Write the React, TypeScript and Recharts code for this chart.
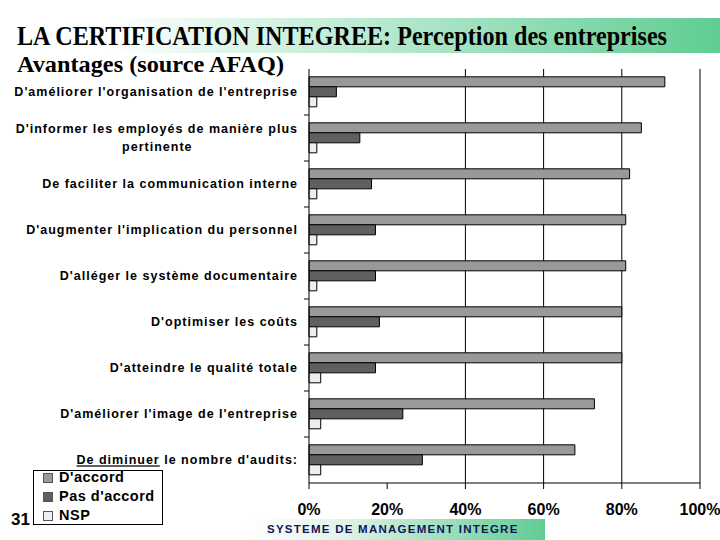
import React from 'react'
import { Bar, BarChart, CartesianGrid, XAxis, YAxis } from 'recharts'

const categories = [
  "D'améliorer l'organisation de l'entreprise",
  "D'informer les employés de manière plus\npertinente",
  'De faciliter la communication interne',
  "D'augmenter l'implication du personnel",
  "D'alléger le système documentaire",
  "D'optimiser les coûts",
  "D'atteindre le qualité totale",
  "D'améliorer l'image de l'entreprise",
  "De diminuer le nombre d'audits:",
]
const accord = [91, 85, 82, 81, 81, 80, 80, 73, 68]
const pasAccord = [7, 13, 16, 17, 17, 18, 17, 24, 29]
const nsp = [2, 2, 2, 2, 2, 2, 3, 3, 3]

const seriesNames = ["D'accord", "Pas d'accord", 'NSP']
const seriesKeys = ['accord', 'pasAccord', 'nsp']
const seriesColors = ['#999999', '#606060', '#eeeeee']

const xTicks = [0, 20, 40, 60, 80, 100]
const gridValues = [40, 60, 80, 100]
const underlined = 'De diminuer'

const data = categories.map((name, i) => ({
  name,
  accord: accord[i],
  pasAccord: pasAccord[i],
  nsp: nsp[i],
}))

const W = 720
const H = 540
const MARGIN = { top: 69, right: 20, bottom: 17, left: 0 }
const Y_WIDTH = 309
const X_HEIGHT = 40
const PLOT_LEFT = MARGIN.left + Y_WIDTH
const PLOT_H = H - MARGIN.top - MARGIN.bottom - X_HEIGHT
const BAND = PLOT_H / categories.length

const SANS = '"Liberation Sans", Arial, sans-serif'
const SERIF = '"Liberation Serif", "Times New Roman", serif'
const LABEL_SIZE = 12.5
const LABEL_SPACING = 1

let ctx: CanvasRenderingContext2D | null = null
const measure = (s: string) => {
  if (!ctx) ctx = document.createElement('canvas').getContext('2d')
  if (!ctx) return s.length * 7
  ctx.font = `bold ${LABEL_SIZE}px "Liberation Sans"`
  return ctx.measureText(s).width + LABEL_SPACING * (s.length - 1)
}

// grid only at 40..100 %, as in the original slide
const gridX = ({ offset }: any) => gridValues.map((v) => offset.left + (v / 100) * offset.width)

const CategoryTick = (props: any) => {
  const { x, y, payload, index } = props
  const lines: string[] = String(payload.value).split('\n')
  const style = { fontFamily: SANS, fontSize: LABEL_SIZE, fontWeight: 700, letterSpacing: LABEL_SPACING }
  const boundary =
    index > 0 ? (
      <line x1={PLOT_LEFT - 5} x2={PLOT_LEFT} y1={y - BAND / 2} y2={y - BAND / 2} stroke="#000" />
    ) : null
  if (lines.length > 1) {
    const w = measure(lines[0])
    return (
      <g>
        {boundary}
        <text x={x} y={y - 9} dy="0.35em" textAnchor="end" fill="#000" style={style}>
          {lines[0]}
        </text>
        <text x={x - w / 2} y={y + 9} dy="0.35em" textAnchor="middle" fill="#000" style={style}>
          {lines[1]}
        </text>
      </g>
    )
  }
  const label = lines[0]
  const hasU = label.startsWith(underlined)
  return (
    <g>
      {boundary}
      <text x={x} y={y} dy="0.35em" textAnchor="end" fill="#000" style={style}>
        {hasU ? (
          <>
            <tspan textDecoration="underline">{underlined}</tspan>
            <tspan>{label.slice(underlined.length)}</tspan>
          </>
        ) : (
          label
        )}
      </text>
    </g>
  )
}

export default function App() {
  return (
    <div
      style={{
        position: 'absolute',
        left: 0,
        top: 0,
        width: W,
        height: H,
        background: '#fff',
        overflow: 'hidden',
      }}
    >
      <svg width={W} height={80} style={{ position: 'absolute', left: 0, top: 0 }}>
        <defs>
          <linearGradient id="hdr" x1="0" x2="1" y1="0" y2="0">
            <stop offset="0" stopColor="#ffffff" />
            <stop offset="0.15" stopColor="#ffffff" />
            <stop offset="1" stopColor="#5fcd93" />
          </linearGradient>
        </defs>
        <rect x={0} y={18} width={W} height={35} fill="url(#hdr)" />
        <text
          x={17}
          y={45}
          textLength={650}
          lengthAdjust="spacingAndGlyphs"
          style={{ fontFamily: SERIF, fontWeight: 700, fontSize: 27 }}
          fill="#000"
        >
          LA CERTIFICATION INTEGREE: Perception des entreprises
        </text>
        <text
          x={17}
          y={72}
          textLength={267}
          lengthAdjust="spacingAndGlyphs"
          style={{ fontFamily: SERIF, fontWeight: 700, fontSize: 23 }}
          fill="#000"
        >
          Avantages (source AFAQ)
        </text>
      </svg>

      <div style={{ position: 'absolute', left: 0, top: 0 }}>
        <BarChart
          width={W}
          height={H}
          data={data}
          layout="vertical"
          margin={MARGIN}
          barCategoryGap="17%"
          barGap={0}
        >
          <CartesianGrid horizontal={false} stroke="#000" verticalCoordinatesGenerator={gridX} />
          <XAxis
            type="number"
            domain={[0, 100]}
            ticks={xTicks}
            tickFormatter={(v) => `${v}%`}
            height={X_HEIGHT}
            axisLine={{ stroke: '#000' }}
            tickLine={{ stroke: '#000' }}
            tickSize={6}
            tickMargin={15}
            tick={{ fill: '#000', fontFamily: SANS, fontSize: 16, fontWeight: 700 }}
            interval={0}
          />
          <XAxis
            xAxisId="top"
            orientation="top"
            type="number"
            domain={[0, 100]}
            height={0}
            tick={false}
            tickLine={false}
            axisLine={{ stroke: '#000' }}
          />
          <YAxis
            type="category"
            dataKey="name"
            width={Y_WIDTH}
            axisLine={{ stroke: '#000' }}
            tickLine={false}
            tickSize={6}
            tickMargin={5}
            interval={0}
            tick={<CategoryTick />}
          />
          {seriesKeys.map((k, i) => (
            <Bar
              key={k}
              dataKey={k}
              name={seriesNames[i]}
              fill={seriesColors[i]}
              stroke="#000"
              strokeWidth={1}
              isAnimationActive={false}
            />
          ))}
        </BarChart>
      </div>

      <div
        style={{
          position: 'absolute',
          left: 33,
          top: 470,
          width: 128,
          height: 53,
          border: '1px solid #000',
          background: '#fff',
          fontFamily: SANS,
          fontWeight: 700,
          fontSize: 14.5,
          letterSpacing: 0.5,
          color: '#000',
        }}
      >
        <div style={{ marginTop: -3 }}>
          {seriesNames.map((n, i) => (
            <div key={n} style={{ height: 19, lineHeight: '19px', display: 'flex', alignItems: 'center' }}>
              <span
                style={{
                  display: 'inline-block',
                  width: 8,
                  height: 8,
                  marginLeft: 9,
                  marginRight: 6,
                  background: seriesColors[i],
                  border: '1px solid #555',
                }}
              />
              {n}
            </div>
          ))}
        </div>
      </div>

      <div
        style={{
          position: 'absolute',
          left: 11,
          top: 510,
          fontFamily: SANS,
          fontWeight: 700,
          fontSize: 17,
          lineHeight: '20px',
          color: '#000',
        }}
      >
        31
      </div>

      <div
        style={{
          position: 'absolute',
          left: 245,
          top: 519,
          width: 300,
          height: 21,
          background: 'linear-gradient(to right, #ffffff 0%, #e4f5ea 30%, #5fcd93 100%)',
          fontFamily: SANS,
          fontWeight: 700,
          fontSize: 11.5,
          letterSpacing: 1.25,
          lineHeight: '21px',
          color: '#14145a',
          paddingLeft: 22,
          boxSizing: 'border-box',
          whiteSpace: 'nowrap',
        }}
      >
        SYSTEME DE MANAGEMENT INTEGRE
      </div>
    </div>
  )
}
